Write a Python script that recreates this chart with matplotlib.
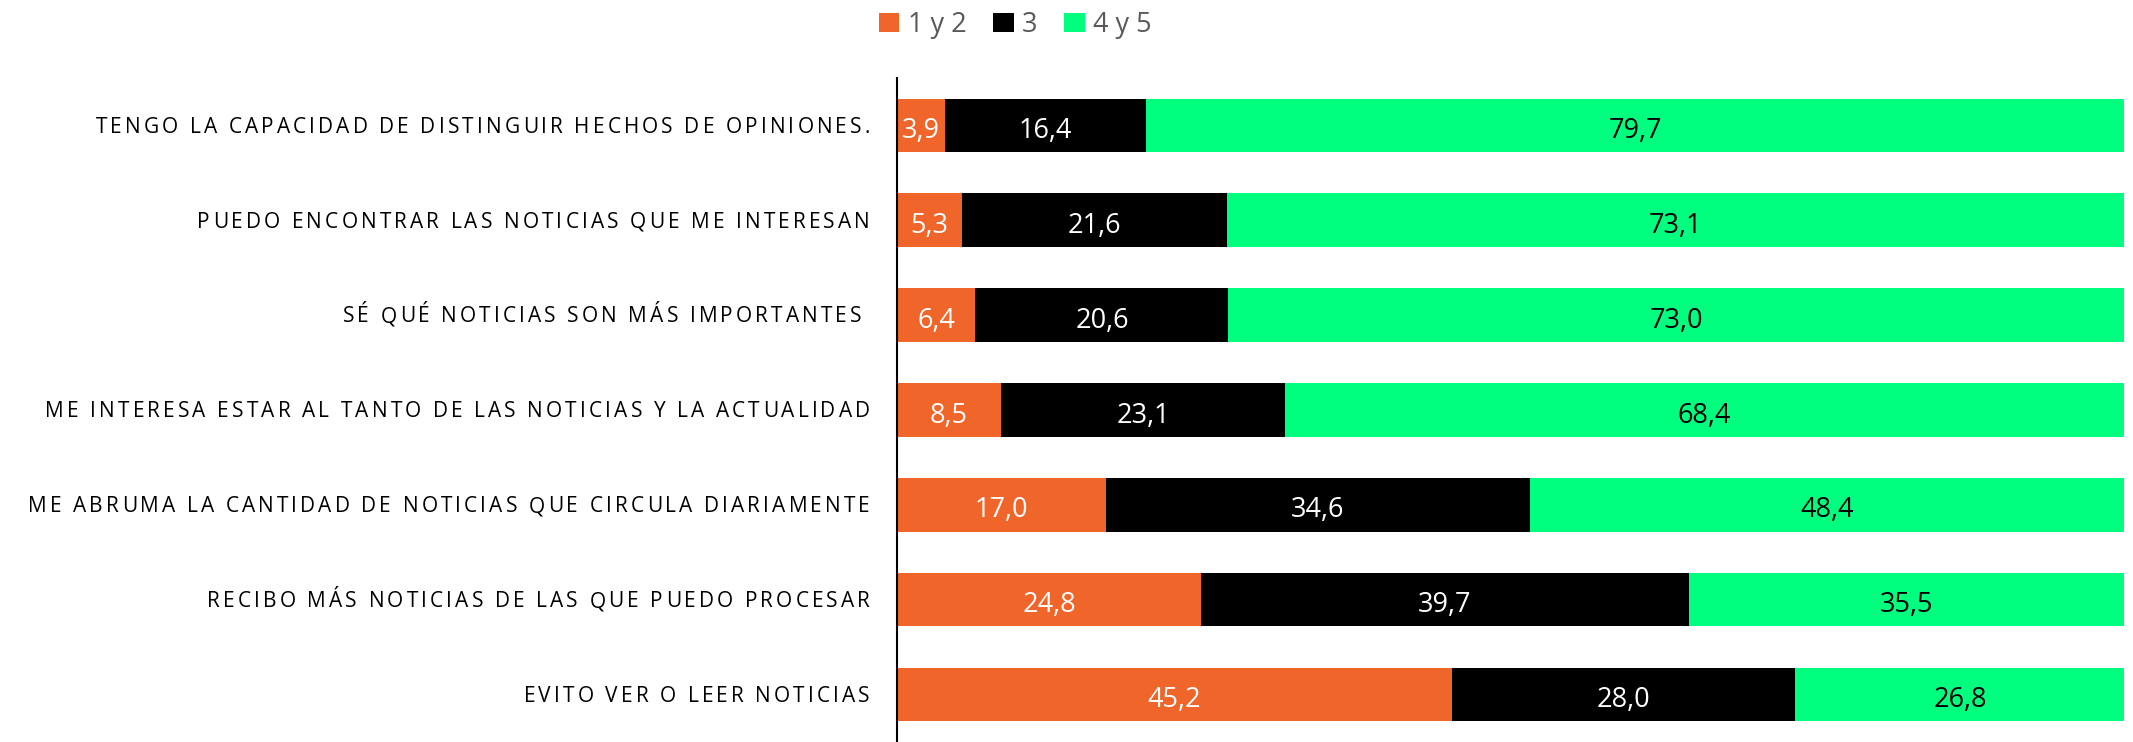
import numpy as np
import matplotlib
matplotlib.use('Agg')
import matplotlib.pyplot as plt
from matplotlib.font_manager import FontProperties
import matplotlib.transforms as mtransforms

categories = [
    'TENGO LA CAPACIDAD DE DISTINGUIR HECHOS DE OPINIONES.',
    'PUEDO ENCONTRAR LAS NOTICIAS QUE ME INTERESAN',
    'SÉ QUÉ NOTICIAS SON MÁS IMPORTANTES ',
    'ME INTERESA ESTAR AL TANTO DE LAS NOTICIAS Y LA ACTUALIDAD',
    'ME ABRUMA LA CANTIDAD DE NOTICIAS QUE CIRCULA DIARIAMENTE',
    'RECIBO MÁS NOTICIAS DE LAS QUE PUEDO PROCESAR',
    'EVITO VER O LEER NOTICIAS',
]
low = [3.9, 5.3, 6.4, 8.5, 17.0, 24.8, 45.2]
mid = [16.4, 21.6, 20.6, 23.1, 34.6, 39.7, 28.0]
high = [79.7, 73.1, 73.0, 68.4, 48.4, 35.5, 26.8]
series_names = ['1 y 2', '3', '4 y 5']

colors = ['#F0652A', '#000000', '#00FF7F']
text_colors = ['white', 'white', 'black']

DPI = 100
fig = plt.figure(figsize=(21.33, 7.42), dpi=DPI)
ax = fig.add_axes([0.4205, 0.0, 0.5755, 0.895])

y = np.arange(len(categories))
left = np.zeros(len(categories))
for vals, col, tcol, name in zip([low, mid, high], colors, text_colors, series_names):
    bars = ax.barh(y, vals, left=left, height=0.565, color=col, label=name)
    txts = ax.bar_label(bars, labels=[f'{v:.1f}'.replace('.', ',') for v in vals],
                        label_type='center', color=tcol, fontsize=19.5,
                        family=['Open Sans', 'DejaVu Sans'])
    for t in txts:
        t.set_va('center_baseline')
        t.xyann = (0, -1.5)
    left += np.array(vals)

ax.set_xlim(0, 100)
ax.set_ylim(-0.5, len(categories) - 0.5)
ax.invert_yaxis()
ax.set_yticks(y)
ax.set_yticklabels([])
ax.tick_params(axis='y', length=0)
ax.set_xticks([])
for s in ['top', 'right', 'bottom']:
    ax.spines[s].set_visible(False)
ax.spines['left'].set_linewidth(1.5)

# category labels, letter-spaced, right aligned against the axis
fp = FontProperties(family='Open Sans', size=15)
renderer = fig.canvas.get_renderer()
def wpx(s):
    return renderer.get_text_width_height_descent(s + 'X', fp, ismath=False)[0] - \
        renderer.get_text_width_height_descent('X', fp, ismath=False)[0]

track = 3.1      # px between letters
pad = 27         # px from axis line
trans = mtransforms.blended_transform_factory(ax.transAxes, ax.transData)
for yi, lab in zip(y, categories):
    total = wpx(lab) + (len(lab) - 1) * track
    x0 = -pad - total
    for i, ch in enumerate(lab):
        if ch == ' ':
            continue
        xoff = x0 + wpx(lab[:i]) + i * track
        ax.annotate(ch, xy=(0, yi), xycoords=trans,
                    xytext=(xoff * 72 / DPI, -7.4 * 72 / DPI), textcoords='offset points',
                    ha='left', va='baseline', fontproperties=fp, color='black',
                    annotation_clip=False)

leg = fig.legend(loc='upper center', bbox_to_anchor=(0.476, 1.018), ncol=3,
                 frameon=False, prop={'family': 'Open Sans', 'size': 19.5},
                 handlelength=0.75, handleheight=0.75,
                 handletextpad=0.3, columnspacing=1.0)
for t in leg.get_texts():
    t.set_color('#595959')

fig.savefig('out.png', dpi=DPI)
